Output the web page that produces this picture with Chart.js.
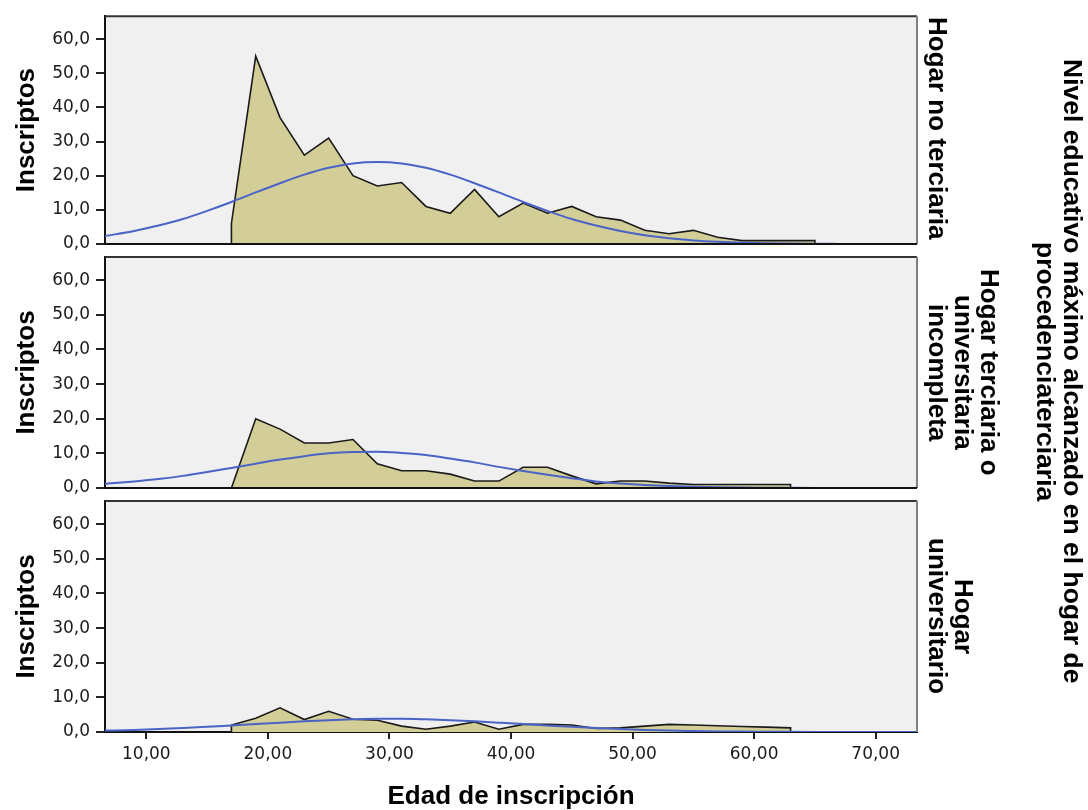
<!DOCTYPE html>
<html>
<head>
<meta charset="utf-8">
<script src="https://cdn.jsdelivr.net/npm/chart.js@4.4.1/dist/chart.umd.min.js"></script>
<style>
  html, body { margin: 0; padding: 0; background: #ffffff; }
  #wrap { position: relative; width: 1088px; height: 810px; overflow: hidden; }
  #wrap canvas { position: absolute; left: 0; top: 0; }
  .vlabel {
    position: absolute;
    writing-mode: vertical-rl;
    text-align: center;
    font-family: "Liberation Sans", Arial, sans-serif;
    font-weight: bold;
    font-size: 26px;
    line-height: 26px;
    color: #000;
    white-space: nowrap;
  }
</style>
</head>
<body>
<div id="wrap">
  <canvas id="c1" width="1088" height="810"></canvas>
  <canvas id="c2" width="1088" height="810"></canvas>
  <canvas id="c3" width="1088" height="810"></canvas>
  <div class="vlabel" style="left:925px; top:13px; height:231px;">Hogar no terciaria</div>
  <div class="vlabel" style="left:925px; top:257px; height:231px;">Hogar terciaria o<br>universitaria<br>incompleta</div>
  <div class="vlabel" style="left:925px; top:501px; height:231px;">Hogar<br>universitario</div>
  <div class="vlabel" style="left:1032px; top:0px; height:743px; line-height:27px; font-size:26.5px;">Nivel educativo máximo alcanzado en el hogar de<br>procedenciaterciaria</div>
</div>
<script>
// ---- Data ----
const panelNames = ["Hogar no terciaria", "Hogar terciaria o universitaria incompleta", "Hogar universitario"];

const agesNoTerciaria = [17,19,21,23,25,27,29,31,33,35,37,39,41,43,45,47,49,51,53,55,57,59,61,63,65];
const inscNoTerciaria = [6,55,37,26,31,20,17,18,11,9,16,8,12,9,11,8,7,4,3,4,2,1,1,1,1];

const agesTerciaria = [17,19,21,23,25,27,29,31,33,35,37,39,41,43,45,47,49,51,53,55,57,59,61,63];
const inscTerciaria = [0,20,17,13,13,14,7,5,5,4,2,2,6,6,3.5,1.2,2,2,1.4,1,1,1,1,1];

const agesUniversitario = [17,19,21,23,25,27,29,31,33,35,37,39,41,43,45,47,49,51,53,55,57,59,61,63];
const inscUniversitario = [2,4,7,3.6,6,3.7,3.4,1.7,0.8,1.7,2.9,0.8,2.2,2.2,2,1,1.2,1.7,2.2,2,1.8,1.6,1.4,1.2];

// Normal curves
const curveAges = [6.6,9,11,13,15,17,19,21,23,25,27,29,31,33,35,37,39,41,43,45,47,49,51,53,55,57,59,61,63,65,67,69,71,73.4];
const normalNoTerciaria = [2.35,3.8,5.4,7.3,9.7,12.3,15.1,17.8,20.3,22.3,23.6,24,23.6,22.3,20.3,17.8,15.1,12.3,9.7,7.3,5.4,3.8,2.55,1.65,1.05,0.65,0.37,0.21,0.11,0.06,0.03,0.01,0,0];
const normalTerciaria = [1.2,1.9,2.6,3.5,4.6,5.8,7.0,8.2,9.2,10.0,10.4,10.5,10.1,9.5,8.5,7.4,6.1,4.9,3.8,2.8,1.9,1.3,0.85,0.55,0.35,0.2,0.12,0.07,0.04,0.02,0.01,0,0,0];
const normalUniversitario = [0.4,0.6,0.85,1.15,1.5,1.9,2.3,2.7,3.1,3.4,3.65,3.8,3.8,3.65,3.4,3.1,2.7,2.3,1.9,1.5,1.15,0.85,0.6,0.4,0.28,0.18,0.11,0.07,0.04,0.02,0.01,0,0,0];

const xTickValues = [10,20,30,40,50,60,70];
const yTickValues = [0,10,20,30,40,50,60];

const X_MIN = 6.6, X_MAX = 73.4, Y_MAX = 66.7;

// ---- Styles ----
const AREA_FILL = '#d3ce98';
const CURVE_COLOR = '#4a63c6';
const PANEL_BG = '#f0f0f0';
const TICK_FONT = { family: 'DejaVu Sans', size: 17 };
const TITLE_FONT = { family: 'Liberation Sans', size: 26, weight: 'bold', lineHeight: 1 };

const panelPlugin = {
  id: 'panelFrame',
  beforeDraw(chart) {
    const { ctx, chartArea: a } = chart;
    ctx.save();
    ctx.fillStyle = PANEL_BG;
    ctx.fillRect(a.left, a.top, a.right - a.left, a.bottom - a.top);
    ctx.restore();
  },
  afterDraw(chart, args, opts) {
    const { ctx, chartArea: a } = chart;
    ctx.save();
    ctx.strokeStyle = '#333333';
    ctx.lineWidth = 2;
    ctx.beginPath();
    ctx.moveTo(a.left, a.top);
    ctx.lineTo(a.right, a.top);
    ctx.stroke();
    ctx.strokeStyle = '#808080';
    ctx.beginPath();
    ctx.moveTo(a.right, a.top);
    ctx.lineTo(a.right, a.bottom);
    ctx.stroke();
    if (opts.bottomLine) {
      ctx.strokeStyle = '#111111';
      ctx.beginPath();
      ctx.moveTo(a.left - 1, a.bottom);
      ctx.lineTo(a.right, a.bottom);
      ctx.stroke();
    }
    ctx.restore();
  }
};

function polygon(ages, vals) {
  const pts = ages.map((a, i) => ({ x: a, y: vals[i] }));
  pts.unshift({ x: ages[0], y: 0 });
  pts.push({ x: ages[ages.length - 1], y: 0 });
  return pts;
}
function curve(ages, vals) {
  return ages.map((a, i) => ({ x: a, y: vals[i] }));
}

function makePanel(canvasId, ages, vals, normVals, top, bottom, showX) {
  const ctx = document.getElementById(canvasId).getContext('2d');
  return new Chart(ctx, {
    type: 'line',
    data: {
      datasets: [
        {
          label: 'Normal',
          data: curve(curveAges, normVals),
          borderColor: CURVE_COLOR,
          borderWidth: 2,
          pointRadius: 0,
          fill: false,
          cubicInterpolationMode: 'monotone',
          order: 0
        },
        {
          label: 'Inscriptos',
          data: polygon(ages, vals),
          borderColor: '#1a1a1a',
          borderWidth: 1.6,
          backgroundColor: AREA_FILL,
          pointRadius: 0,
          fill: 'origin',
          tension: 0,
          order: 1
        }
      ]
    },
    options: {
      responsive: false,
      animation: false,
      devicePixelRatio: 1,
      events: [],
      layout: { padding: { left: 0, right: 1088 - 917, top: top, bottom: showX ? 0 : 810 - bottom } },
      plugins: {
        legend: { display: false },
        tooltip: { enabled: false },
        panelFrame: { bottomLine: !showX }
      },
      scales: {
        x: {
          type: 'linear',
          min: X_MIN,
          max: X_MAX,
          display: showX,
          afterFit: (s) => { if (showX) s.height = 810 - bottom; },
          afterBuildTicks: (s) => { s.ticks = xTickValues.map(v => ({ value: v })); },
          ticks: {
            font: TICK_FONT,
            color: '#1a1a1a',
            padding: 5,
            maxRotation: 0,
            callback: (v) => Number(v).toFixed(2).replace('.', ',')
          },
          grid: { drawOnChartArea: false, drawTicks: true, tickLength: 7, color: '#222', lineWidth: 2 },
          border: { display: true, color: '#111', width: 2 },
          title: {
            display: true,
            text: 'Edad de inscripción',
            font: TITLE_FONT,
            color: '#000',
            padding: { top: 0, bottom: 0 }
          }
        },
        y: {
          type: 'linear',
          min: 0,
          max: Y_MAX,
          afterFit: (s) => { s.width = 105; },
          afterBuildTicks: (s) => { s.ticks = yTickValues.map(v => ({ value: v })); },
          ticks: {
            font: TICK_FONT,
            color: '#1a1a1a',
            padding: 6,
            callback: (v) => Number(v).toFixed(1).replace('.', ',')
          },
          grid: { drawOnChartArea: false, drawTicks: true, tickLength: 9, color: '#222', lineWidth: 2 },
          border: { display: true, color: '#111', width: 2 },
          title: {
            display: true,
            text: 'Inscriptos',
            font: TITLE_FONT,
            color: '#000',
            padding: { top: 14, bottom: 0 }
          }
        }
      }
    },
    plugins: [panelPlugin]
  });
}

makePanel('c1', agesNoTerciaria, inscNoTerciaria, normalNoTerciaria, 13, 244, false);
makePanel('c2', agesTerciaria, inscTerciaria, normalTerciaria, 257, 488, false);
makePanel('c3', agesUniversitario, inscUniversitario, normalUniversitario, 501, 732, true);
</script>
</body>
</html>
